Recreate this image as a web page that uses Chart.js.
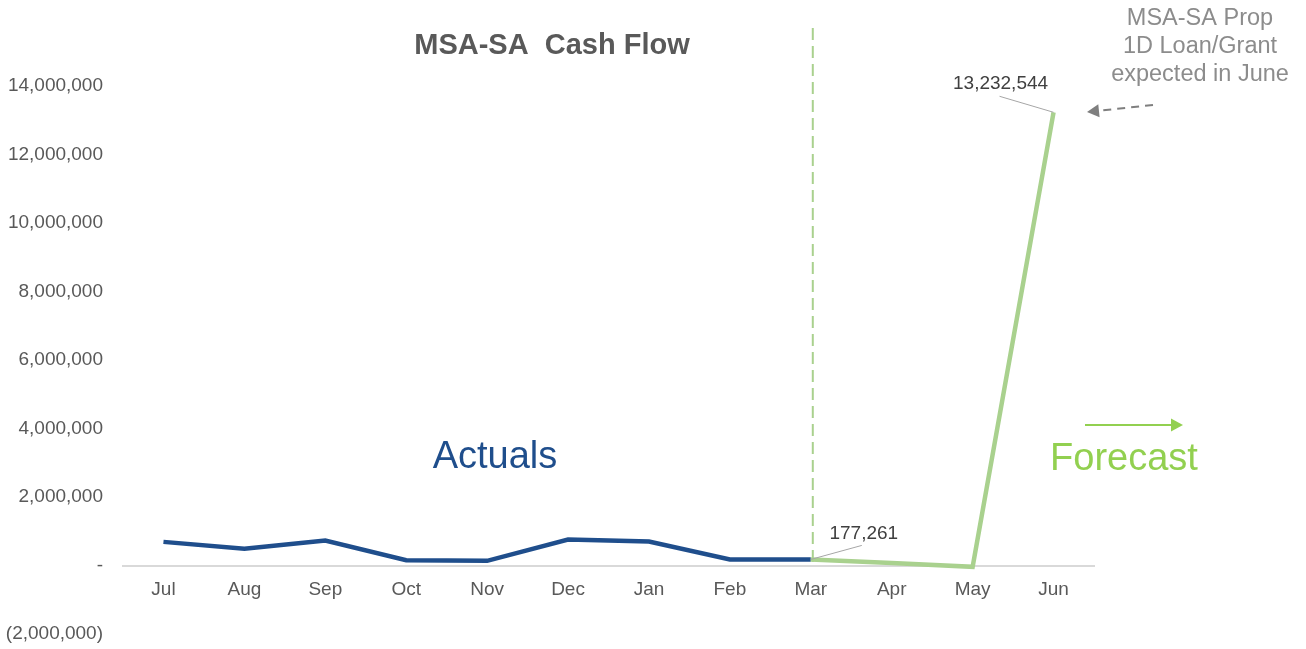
<!DOCTYPE html>
<html>
<head>
<meta charset="utf-8">
<script src="https://cdn.jsdelivr.net/npm/chart.js@4/dist/chart.umd.min.js"></script>
<style>
  html, body { margin: 0; padding: 0; background: #fff; }
  #wrap { width: 1306px; height: 649px; }
</style>
</head>
<body>
<div id="wrap"><canvas id="cash_flow"></canvas></div>
<script>
const months = ['Jul', 'Aug', 'Sep', 'Oct', 'Nov', 'Dec', 'Jan', 'Feb', 'Mar', 'Apr', 'May', 'Jun'];
const actuals = [690000, 490000, 730000, 155000, 137000, 758000, 700000, 175000, 177261, null, null, null];
const forecast = [null, null, null, null, null, null, null, null, 177261, 70000, -40000, 13232544];
const yTicks = [-2000000, 0, 2000000, 4000000, 6000000, 8000000, 10000000, 12000000, 14000000];

const BLUE = '#1F4E8C';
const GREEN_LINE = '#A9D18E';
const GREEN = '#92D050';
const GREY = '#595959';
const FONT = '"Liberation Sans", Arial, sans-serif';

function fmtTick(v) {
    if (v === 0) return '-';
    const s = Math.abs(v).toLocaleString('en-US');
    return v < 0 ? '(' + s + ')' : s;
}

function arrowHead(ctx, x, y, dir, size) {
    ctx.beginPath();
    ctx.moveTo(x, y);
    ctx.lineTo(x - dir * size, y - size * 0.55);
    ctx.lineTo(x - dir * size, y + size * 0.55);
    ctx.closePath();
    ctx.fill();
}

// titles, callouts and arrows drawn over the chart
const extras = {
    id: 'extras',
    afterDatasetsDraw(chart) {
        const ctx = chart.ctx;
        const x = chart.scales.x, y = chart.scales.y;
        ctx.save();

        // forecast divider
        const divX = x.getPixelForValue(8) + 2;
        ctx.strokeStyle = GREEN_LINE;
        ctx.lineWidth = 2;
        ctx.setLineDash([12, 6]);
        ctx.beginPath();
        ctx.moveTo(divX, 28);
        ctx.lineTo(divX, y.getPixelForValue(0));
        ctx.stroke();
        ctx.setLineDash([]);

        // title
        ctx.fillStyle = GREY;
        ctx.font = 'bold 29px ' + FONT;
        ctx.textAlign = 'center';
        ctx.textBaseline = 'middle';
        ctx.fillText('MSA-SA  Cash Flow', 552, 46);

        // data labels with leader lines
        const marX = x.getPixelForValue(8), marY = y.getPixelForValue(forecast[8]);
        const junX = x.getPixelForValue(11), junY = y.getPixelForValue(forecast[11]);
        ctx.strokeStyle = '#a6a6a6';
        ctx.lineWidth = 1;
        ctx.beginPath();
        ctx.moveTo(marX, marY);
        ctx.lineTo(marX + 51, marY - 14);
        ctx.moveTo(junX, junY);
        ctx.lineTo(junX - 54, junY - 16);
        ctx.stroke();
        ctx.fillStyle = '#404040';
        ctx.font = '19px ' + FONT;
        ctx.fillText(fmtTick(forecast[8]), marX + 53, marY - 26);
        ctx.fillText(fmtTick(forecast[11]), junX - 53, junY - 29);

        // note
        ctx.fillStyle = '#8c8c8c';
        ctx.font = '23.5px ' + FONT;
        ctx.fillText('MSA-SA Prop', 1200, 19);
        ctx.fillText('1D Loan/Grant', 1200, 47);
        ctx.fillText('expected in June', 1200, 75);

        // dashed arrow to June point
        ctx.strokeStyle = '#7f7f7f';
        ctx.fillStyle = '#7f7f7f';
        ctx.lineWidth = 2;
        ctx.setLineDash([8, 6]);
        ctx.beginPath();
        ctx.moveTo(1153, 105);
        ctx.lineTo(1097, 111);
        ctx.stroke();
        ctx.setLineDash([]);
        ctx.save();
        ctx.translate(1087, 112);
        ctx.rotate(-0.1);
        arrowHead(ctx, 0, 0, -1, 12);
        ctx.restore();

        // series captions
        ctx.font = '38px ' + FONT;
        ctx.fillStyle = BLUE;
        ctx.fillText('Actuals', 495, 458);
        ctx.fillStyle = GREEN;
        ctx.fillText('Forecast', 1124, 460);

        ctx.strokeStyle = GREEN;
        ctx.fillStyle = GREEN;
        ctx.lineWidth = 2;
        ctx.beginPath();
        ctx.moveTo(1085, 425);
        ctx.lineTo(1172, 425);
        ctx.stroke();
        arrowHead(ctx, 1183, 425, 1, 12);

        ctx.restore();
    }
};

new Chart(document.getElementById('cash_flow'), {
    type: 'line',
    data: {
        labels: months,
        datasets: [
            {
                label: 'Actuals',
                data: actuals,
                borderColor: BLUE,
                borderWidth: 4.5,
                pointRadius: 0,
                tension: 0,
                order: 2
            },
            {
                label: 'Forecast',
                data: forecast,
                borderColor: GREEN_LINE,
                borderWidth: 4.5,
                pointRadius: 0,
                tension: 0,
                order: 1
            }
        ]
    },
    options: {
        responsive: true,
        maintainAspectRatio: false,
        animation: false,
        layout: { padding: { top: 86, right: 212, bottom: 15, left: 0 } },
        plugins: {
            legend: { display: false },
            tooltip: { enabled: false }
        },
        scales: {
            x: {
                position: { y: 0 },
                offset: true,
                afterFit(scale) { scale.height = 0; scale.paddingLeft = 0; scale.paddingRight = 0; },
                grid: { display: false, drawTicks: false },
                border: { display: true, color: '#d9d9d9', width: 2 },
                ticks: {
                    color: GREY,
                    padding: 13,
                    font: { size: 19, family: FONT }
                }
            },
            y: {
                min: -2000000,
                max: 14000000,
                afterFit(scale) { scale.width = 123; scale.paddingTop = 0; scale.paddingBottom = 0; },
                afterBuildTicks(scale) { scale.ticks = yTicks.map(v => ({ value: v })); },
                grid: { display: false, drawTicks: false },
                border: { display: false },
                ticks: {
                    color: GREY,
                    padding: 20,
                    font: { size: 19, family: FONT },
                    callback: v => fmtTick(v)
                }
            }
        }
    },
    plugins: [extras]
});
</script>
</body>
</html>
